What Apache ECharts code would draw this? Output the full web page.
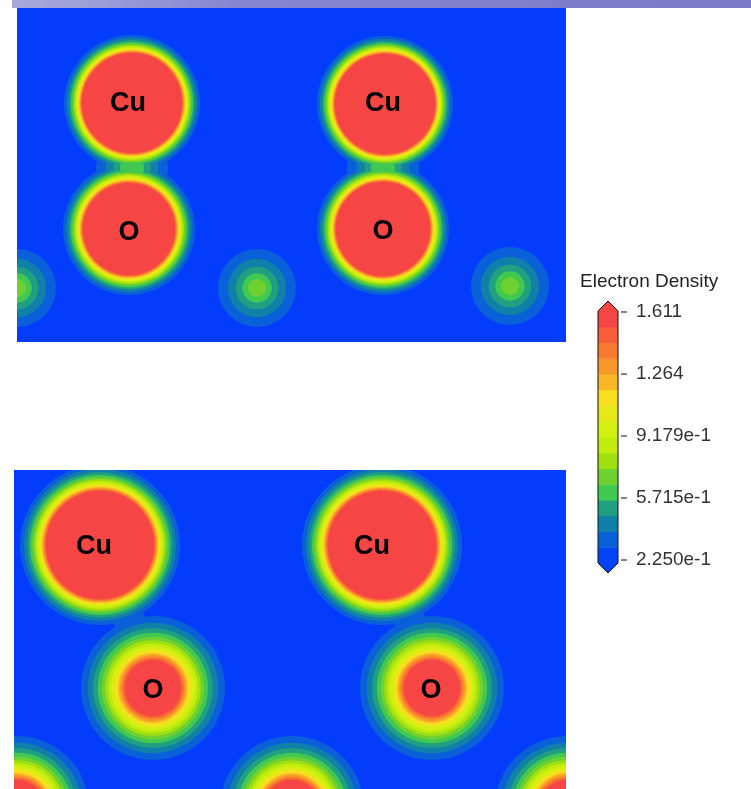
<!DOCTYPE html>
<html>
<head>
<meta charset="utf-8">
<script src="https://cdn.jsdelivr.net/npm/echarts@6/dist/echarts.min.js"></script>
<style>
html,body{margin:0;padding:0;background:#fff;}
#chart{width:751px;height:789px;}
</style>
</head>
<body>
<div id="chart"></div>
<script>
// ---- Contour band colours (lowest -> highest) and colour-bar ticks ----
const levelColors = ['#0444f8','#0a60d8','#1080a8','#20a080','#40c850','#70d030','#a0e010','#c0ec10','#d4f010','#e6e818','#f8e020','#f8b825','#f8982a','#f87a30','#f85c38','#f54545'];
const densityMin = 0.225;
const densityMax = 1.611;
const tickValues = [1.611, 1.264, 0.9179, 0.5715, 0.225];
const tickLabels = ['1.611', '1.264', '9.179e-1', '5.715e-1', '2.250e-1'];
const colorbarTitle = 'Electron Density';

// ---- Top panel: density blobs (panel units) ----
const topX     = [115, 368, 112, 366,   0, 240, 493, 115, 366];
const topY     = [ 95,  96, 221, 221, 280, 280, 278, 160, 160];
const topCore  = [ 50,  50,  46,  47,   9,   9,   9,  12,  12];
const topOuter = [ 68,  68,  66,  66,  39,  39,  39,  36,  36];
const topPeak  = [ 15,  15,  15,  15,   5,   5,   5,   4,   4];
const topLabelText = ['Cu', 'Cu', 'O', 'O'];
const topLabelX    = [111, 366, 112, 366];
const topLabelY    = [ 96,  96, 225, 224];

// ---- Bottom panel: density blobs (panel units) ----
const botX     = [ 86, 368, 139, 418,   3, 278, 553, 114, 394];
const botY     = [ 75,  75, 218, 218, 338, 338, 338, 147, 147];
const botCore  = [ 54,  54,  28,  28,  28,  28,  28,  16,  16];
const botOuter = [ 80,  80,  72,  72,  72,  72,  72,  16,  16];
const botPeak  = [ 15,  15,  15,  15,  15,  15,  15,   1,   1];
const botLabelText = ['Cu', 'Cu', 'O', 'O'];
const botLabelX    = [ 80, 358, 139, 417];
const botLabelY    = [ 77,  77, 221, 221];

const bandStep = (densityMax - densityMin) / levelColors.length;
function threshold(k) { return densityMin + k * bandStep; }

function buildData(xs, ys, cores, outers, peaks) {
  const out = [];
  for (let k = 1; k < levelColors.length; k++) {
    for (let i = 0; i < xs.length; i++) {
      if (k > peaks[i]) continue;
      out.push({ value: [xs[i], ys[i], cores[i], outers[i], peaks[i], k],
                 itemStyle: { color: levelColors[k] } });
    }
  }
  return out;
}

function renderBlob(params, api) {
  const x = api.value(0), y = api.value(1);
  const core = api.value(2), outer = api.value(3);
  const peak = api.value(4), k = api.value(5);
  let rad = core;
  if (k < peak) {
    const f = Math.log(threshold(peak) / threshold(k)) / Math.log(threshold(peak) / threshold(1));
    rad = core + (outer - core) * f;
  }
  const c = api.coord([x, y]);
  const s = api.size([rad, rad]);
  return {
    type: 'circle',
    z2: k,
    shape: { cx: c[0], cy: c[1], r: Math.abs(s[0]) },
    style: { fill: api.visual('color') }
  };
}

function labelData(txt, xs, ys) {
  return txt.map((t, i) => ({ name: t, value: [xs[i], ys[i]] }));
}

const labelStyle = {
  show: true, position: 'inside', formatter: '{b}', opacity: 1,
  fontFamily: 'Liberation Sans, Arial, sans-serif', fontSize: 27, fontWeight: 'bold', color: '#000'
};

// ---- Colour bar graphics ----
const cbLeft = 598, cbRight = 618, cbTop = 311, cbBottom = 563;
const cbMid = (cbLeft + cbRight) / 2;
const bandH = (cbBottom - cbTop) / levelColors.length;
const graphics = [];
graphics.push({
  type: 'rect', left: 12, top: 0, shape: { width: 739, height: 8 },
  style: { fill: { type: 'linear', x: 0, y: 0, x2: 1, y2: 0,
    colorStops: [{ offset: 0, color: '#a9a9dc' }, { offset: 0.3, color: '#8686d0' }, { offset: 1, color: '#7a78c8' }] } }
});
levelColors.forEach((col, k) => {
  graphics.push({ type: 'rect', shape: { x: cbLeft, y: cbBottom - (k + 1) * bandH, width: cbRight - cbLeft, height: bandH + 0.5 },
    style: { fill: col } });
});
graphics.push({ type: 'polygon', shape: { points: [[cbLeft, cbTop], [cbMid, cbTop - 10], [cbRight, cbTop]] },
  style: { fill: levelColors[levelColors.length - 1] } });
graphics.push({ type: 'polygon', shape: { points: [[cbLeft, cbBottom], [cbMid, cbBottom + 10], [cbRight, cbBottom]] },
  style: { fill: levelColors[0] } });
graphics.push({ type: 'polygon', shape: { points: [[cbLeft, cbTop], [cbMid, cbTop - 10], [cbRight, cbTop], [cbRight, cbBottom], [cbMid, cbBottom + 10], [cbLeft, cbBottom]] },
  style: { fill: 'none', stroke: '#111', lineWidth: 1 } });
const tickTop = 312, tickBottom = 560;
tickValues.forEach((v, i) => {
  const ty = tickBottom - (v - densityMin) / (densityMax - densityMin) * (tickBottom - tickTop);
  graphics.push({ type: 'line', shape: { x1: 621, y1: ty, x2: 627, y2: ty }, style: { stroke: '#333', lineWidth: 1.2 } });
  graphics.push({ type: 'text', x: 636, y: ty, style: { text: tickLabels[i], fill: '#333',
    font: '19px "Liberation Sans", Arial, sans-serif', textVerticalAlign: 'middle', verticalAlign: 'middle' } });
});
graphics.push({ type: 'text', x: 580, y: 282, style: { text: colorbarTitle, fill: '#222',
  font: '19px "Liberation Sans", Arial, sans-serif', textVerticalAlign: 'middle', verticalAlign: 'middle' } });

const chart = echarts.init(document.getElementById('chart'));
chart.setOption({
  animation: false,
  backgroundColor: '#ffffff',
  grid: [
    { left: 17, top: 8, width: 549, height: 334, show: true, backgroundColor: '#033dfb', borderWidth: 0 },
    { left: 14, top: 470, width: 552, height: 319, show: true, backgroundColor: '#033dfb', borderWidth: 0 }
  ],
  xAxis: [
    { gridIndex: 0, type: 'value', min: 0, max: 549, show: false },
    { gridIndex: 1, type: 'value', min: 0, max: 552, show: false }
  ],
  yAxis: [
    { gridIndex: 0, type: 'value', min: 0, max: 334, inverse: true, show: false },
    { gridIndex: 1, type: 'value', min: 0, max: 319, inverse: true, show: false }
  ],
  series: [
    { type: 'custom', xAxisIndex: 0, yAxisIndex: 0, clip: true, silent: true,
      renderItem: renderBlob, data: buildData(topX, topY, topCore, topOuter, topPeak) },
    { type: 'custom', xAxisIndex: 1, yAxisIndex: 1, clip: true, silent: true,
      renderItem: renderBlob, data: buildData(botX, botY, botCore, botOuter, botPeak) },
    { type: 'scatter', xAxisIndex: 0, yAxisIndex: 0, symbolSize: 1, silent: true, z: 5,
      itemStyle: { color: 'rgba(0,0,0,0)' }, label: labelStyle,
      data: labelData(topLabelText, topLabelX, topLabelY) },
    { type: 'scatter', xAxisIndex: 1, yAxisIndex: 1, symbolSize: 1, silent: true, z: 5,
      itemStyle: { color: 'rgba(0,0,0,0)' }, label: labelStyle,
      data: labelData(botLabelText, botLabelX, botLabelY) }
  ],
  graphic: graphics
});
</script>
</body>
</html>
